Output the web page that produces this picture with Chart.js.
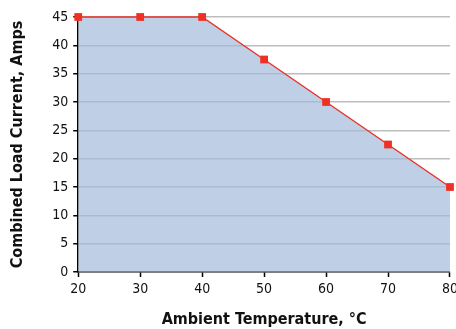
<!DOCTYPE html>
<html>
<head>
<meta charset="utf-8">
<script src="https://cdn.jsdelivr.net/npm/chart.js@4/dist/chart.umd.min.js"></script>
<style>
  html, body { margin: 0; padding: 0; background: #fff; overflow: hidden; }
  #wrap { position: relative; width: 462px; height: 329px; }
</style>
</head>
<body>
<div id="wrap"><canvas id="derateChart"></canvas></div>
<script>
// Data
const temperatures = [20, 30, 40, 50, 60, 70, 80];
const currents = [45, 45, 45, 37.5, 30, 22.5, 15];
const xTicks = [20, 30, 40, 50, 60, 70, 80];
const yTicks = [0, 5, 10, 15, 20, 25, 30, 35, 40, 45];

const fontFamily = '"Liberation Sans Narrow", "Arial Narrow", "DejaVu Sans Condensed", sans-serif';

const ctx = document.getElementById('derateChart').getContext('2d');
new Chart(ctx, {
    type: 'line',
    data: {
        datasets: [{
            data: temperatures.map((t, i) => ({ x: t, y: currents[i] })),
            borderColor: '#e8352a',
            backgroundColor: 'rgba(164, 186, 219, 0.7)',
            borderWidth: 1.5,
            fill: 'origin',
            tension: 0,
            pointStyle: 'rect',
            pointRadius: 5.5,
            pointBackgroundColor: '#ee3124',
            pointBorderWidth: 0,
            clip: false
        }]
    },
    options: {
        responsive: true,
        maintainAspectRatio: false,
        animation: false,
        layout: { padding: { top: 17, right: 11, bottom: 0, left: 8 } },
        plugins: { legend: { display: false }, tooltip: { enabled: false } },
        scales: {
            x: {
                type: 'linear',
                min: 20,
                max: 80,
                afterBuildTicks: s => { s.ticks = xTicks.map(v => ({ value: v })); },
                ticks: { color: '#111', font: { family: fontFamily, size: 14 }, padding: 4 },
                grid: { drawOnChartArea: false, tickLength: 5, tickColor: '#000', tickWidth: 1.5 },
                border: { color: '#000', width: 1.5 },
                title: {
                    display: true,
                    text: 'Ambient Temperature, °C',
                    color: '#111',
                    font: { family: fontFamily, size: 16, weight: 'bold' },
                    padding: { top: 8, bottom: 0 }
                }
            },
            y: {
                min: 0,
                max: 45,
                afterBuildTicks: s => { s.ticks = yTicks.map(v => ({ value: v })); },
                ticks: { color: '#111', font: { family: fontFamily, size: 14 }, padding: 5 },
                grid: {
                    color: ctx => ctx.tick && ctx.tick.value === 0 ? 'rgba(0,0,0,0)' : '#bdbdbd',
                    lineWidth: 1.5,
                    tickLength: 5,
                    tickColor: '#000',
                    tickWidth: 1.5
                },
                border: { color: '#000', width: 1.5 },
                title: {
                    display: true,
                    text: 'Combined Load Current, Amps',
                    color: '#111',
                    font: { family: fontFamily, size: 16, weight: 'bold' },
                    padding: { top: 0, bottom: 20 }
                }
            }
        }
    }
});
</script>
</body>
</html>
